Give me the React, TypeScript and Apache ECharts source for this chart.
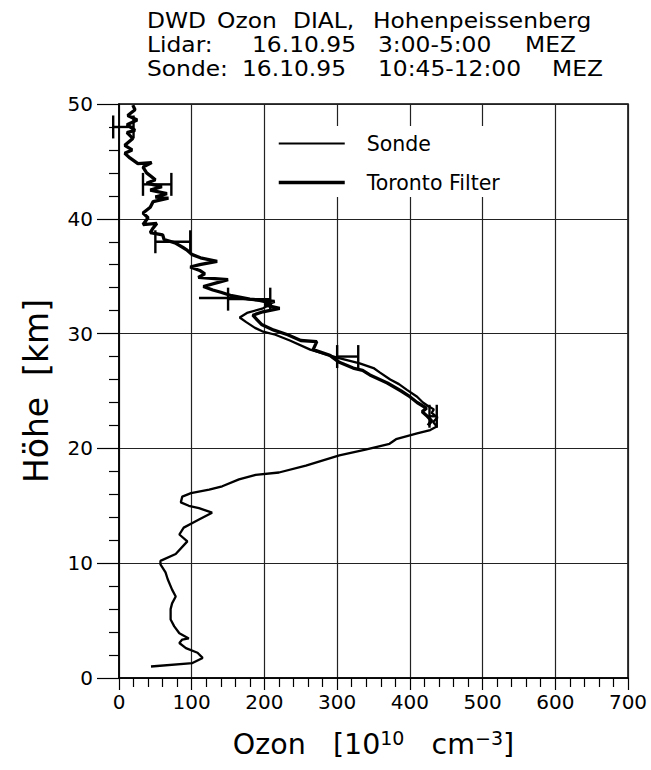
import React, { useEffect, useRef } from "react";
import * as echarts from "echarts";

const FONT = "DejaVu Sans";

// Sonde profile: height [km] and ozone [1e10 cm^-3]
const sondeHeight = [
  1.0, 1.3, 1.75, 2.2, 2.6, 3.05, 3.35, 3.45, 3.9, 4.5, 5.1, 6.0, 6.5, 7.1, 7.7, 8.6, 9.2, 9.9, 10.2,
  10.8, 11.9, 12.5, 13.1, 13.5, 13.8, 14.4, 14.8, 15.0, 15.3, 15.8, 16.1, 16.4, 16.7, 17.3, 17.7, 17.9,
  18.5, 19.4, 19.9, 20.4, 20.8, 21.3, 21.6, 21.9, 22.3, 22.7, 23.1, 23.4, 23.7, 24.0, 24.5, 25.1, 25.6,
  26.0, 26.6, 27.0, 27.4, 27.9, 28.6, 29.4, 29.9, 30.2, 30.5, 31.0, 31.4, 31.8, 32.2, 32.6, 32.9, 33.1, 33.1,
];
const sondeOzone = [
  44, 101, 115, 108, 92, 83, 87, 96, 83, 76, 71, 71, 73, 78, 73, 67, 64, 57, 57,
  78, 94, 83, 89, 101, 110, 128, 110, 96, 85, 87, 99, 124, 142, 165, 188, 220,
  257, 303, 339, 372, 381, 410, 428, 437, 432, 438, 430, 433, 425, 418, 410, 396, 385,
  373, 359, 350, 331, 300, 263, 235, 215, 197, 187, 175, 166, 176, 198, 210, 190, 160, 110,
];

// Lidar (Toronto filter) profile
const lidarHeight = [
  22.0, 22.4, 22.8, 23.2, 23.5, 24.0, 24.5, 25.0, 25.7, 26.4, 26.8, 27.0, 27.5, 28.1, 28.6, 29.3, 29.4,
  29.9, 30.3, 30.8, 31.2, 31.6, 31.9, 32.2, 32.5, 32.8, 33.0, 33.3, 33.6, 33.8, 34.1, 34.5, 34.7, 34.9,
  35.2, 35.5, 35.8, 36.0, 36.3, 36.6, 36.9, 37.3, 37.5, 37.9, 38.2, 38.6, 38.8, 39.2, 39.6, 39.5, 40.1,
  40.5, 41.0, 41.5, 41.8, 41.9, 42.2, 42.5, 42.8, 43.1, 43.4, 44.0, 44.5, 44.9, 44.8, 45.3, 45.7, 46.0,
  46.4, 47.0, 47.5, 47.7, 48.2, 48.6, 49.0, 49.5, 49.9,
];
const lidarOzone = [
  425, 430, 424, 417, 423, 410, 400, 388, 369, 345, 335, 322, 303, 290, 267, 272, 250,
  232, 213, 196, 190, 184, 198, 221, 200, 214, 180, 155, 140, 129, 116, 139, 150, 109,
  118, 111, 98, 111, 135, 112, 100, 93, 88, 77, 62, 60, 43, 47, 52, 33, 40,
  33, 43, 47, 68, 50, 66, 43, 59, 38, 50, 38, 33, 45, 26, 15, 8, 18,
  8, 19, 11, 22, 11, 25, 12, 22, 19,
];

// Lidar error bars (height, low, high)
const errHeight = [48, 43, 38, 33, 28, 22.8];
const errLow = [-8, 33, 50, 150, 300, 427];
const errHigh = [20, 72, 98, 208, 329, 437];

const xTicks = { min: 0, max: 700, interval: 100 };
const yTicks = { min: 0, max: 50, interval: 10 };

const seriesNames = ["Sonde", "Toronto Filter"];

// Title words: [text, x, line]
const titleWords: [string, number, number][] = [
  ["DWD", 147, 0],
  ["Ozon", 217, 0],
  ["DIAL,", 293, 0],
  ["Hohenpeissenberg", 373, 0],
  ["Lidar:", 147, 1],
  ["16.10.95", 252, 1],
  ["3:00-5:00", 378, 1],
  ["MEZ", 525, 1],
  ["Sonde:", 147, 2],
  ["16.10.95", 242, 2],
  ["10:45-12:00", 378, 2],
  ["MEZ", 552, 2],
];
const titleLineY = [21, 45.2, 69.2];

export default function App() {
  const ref = useRef<HTMLDivElement>(null);
  useEffect(() => {
    if (!ref.current) return;
    const chart = echarts.init(ref.current, null, { renderer: "svg" });
    const sondeData = sondeHeight.map((h, i) => [sondeOzone[i], h]);
    const lidarData = lidarHeight.map((h, i) => [lidarOzone[i], h]);
    const errData = errHeight.map((h, i) => [h, errLow[i], errHigh[i]]);
    const black = "#000";
    const option: any = {
      animation: false,
      backgroundColor: "#fff",
      grid: {
        left: 119,
        right: 23,
        top: 104,
        bottom: 92,
        show: true,
        borderColor: black,
        borderWidth: 1.5,
        backgroundColor: "transparent",
      },
      legend: {
        data: [
          { name: seriesNames[0], lineStyle: { color: black, width: 2 } },
          { name: seriesNames[1], lineStyle: { color: black, width: 3.5 } },
        ],
        orient: "vertical",
        left: 277,
        top: 133,
        itemWidth: 66,
        itemHeight: 20,
        itemGap: 18,
        padding: 0,
        itemStyle: { opacity: 0 },
        textStyle: { fontFamily: FONT, fontSize: 20.5, color: black, padding: [0, 0, 0, 17] },
      },
      xAxis: {
        type: "value",
        ...xTicks,
        axisLine: { show: true, lineStyle: { color: black, width: 1.5 } },
        axisTick: { show: true, length: 12, lineStyle: { color: black, width: 1.2 } },
        minorTick: { show: true, splitNumber: 5, length: 9, lineStyle: { color: black, width: 1.2 } },
        splitLine: { show: true, lineStyle: { color: "#222", width: 1.2 } },
        axisLabel: { color: black, fontSize: 20, fontFamily: FONT, margin: 14 },
        name: "Ozon   [10{sup|10}   cm{sup|−3}]",
        nameLocation: "middle",
        nameGap: 50,
        nameTextStyle: {
          fontFamily: FONT,
          fontSize: 28.5,
          color: black,
          rich: { sup: { fontFamily: FONT, fontSize: 19, color: black, verticalAlign: "top", padding: [0, 0, 14, 0] } },
        },
      },
      yAxis: {
        type: "value",
        ...yTicks,
        axisLine: { show: true, lineStyle: { color: black, width: 1.5 } },
        axisTick: { show: true, length: 22, lineStyle: { color: black, width: 1.2 } },
        minorTick: { show: true, splitNumber: 5, length: 10, lineStyle: { color: black, width: 1.2 } },
        splitLine: { show: true, lineStyle: { color: "#222", width: 1.2 } },
        axisLabel: { color: black, fontSize: 20, fontFamily: FONT, margin: 26 },
        name: "Höhe  [km]",
        nameLocation: "middle",
        nameGap: 66,
        nameTextStyle: { fontFamily: FONT, fontSize: 33, color: black },
      },
      graphic: [
        {
          type: "rect",
          z: 3,
          shape: { x: 270, y: 126, width: 280, height: 71 },
          style: { fill: "#fff" },
        },
        ...titleWords.map(([t, x, line]) => ({
          type: "text",
          x,
          y: titleLineY[line],
          scaleX: 1.14,
          style: {
            text: t,
            fontFamily: FONT,
            fontSize: 20.5,
            lineHeight: 21,
            fill: black,
            textAlign: "left",
            textVerticalAlign: "middle",
          },
        })),
      ],
      series: [
        {
          name: seriesNames[0],
          type: "line",
          data: sondeData,
          symbol: "none",
          clip: false,
          color: black,
          lineStyle: { color: black, width: 2.3 },
          z: 2,
        },
        {
          name: seriesNames[1],
          type: "line",
          data: lidarData,
          symbol: "none",
          clip: false,
          color: black,
          lineStyle: { color: black, width: 3.3 },
          z: 2,
        },
        {
          name: "err",
          type: "custom",
          data: errData,
          encode: { x: [1, 2], y: 0 },
          clip: false,
          z: 3,
          renderItem: (params: any, api: any) => {
            const h = api.value(0);
            const lo = api.value(1);
            const hi = api.value(2);
            const a = api.coord([lo, h]);
            const b = api.coord([hi, h]);
            const top = api.coord([lo, h + 1])[1];
            const bot = api.coord([lo, h - 1])[1];
            const style = { stroke: black, lineWidth: 2.4 };
            return {
              type: "group",
              children: [
                { type: "line", shape: { x1: a[0], y1: a[1], x2: b[0], y2: b[1] }, style },
                { type: "line", shape: { x1: a[0], y1: top, x2: a[0], y2: bot }, style },
                { type: "line", shape: { x1: b[0], y1: top, x2: b[0], y2: bot }, style },
              ],
            };
          },
        },
      ],
    };
    chart.setOption(option);
    return () => chart.dispose();
  }, []);
  return (
    <div
      ref={ref}
      style={{ position: "fixed", left: 0, top: 0, width: 651, height: 770, background: "#fff" }}
    />
  );
}
